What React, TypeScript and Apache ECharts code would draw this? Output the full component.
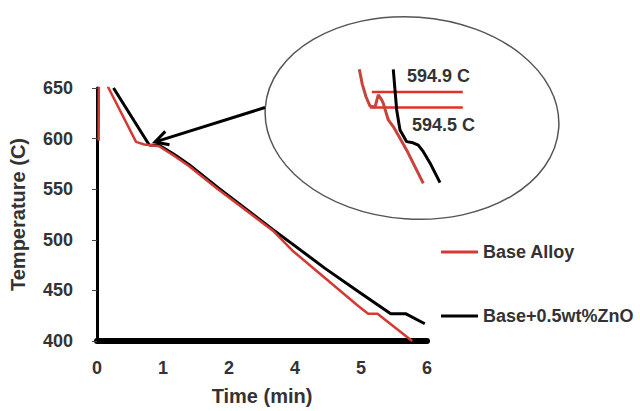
import React, { useEffect, useRef } from "react";
import * as echarts from "echarts";

// Main cooling curves: [time (min), temperature (C)]
const baseAlloy: [number, number][] = [
  [0.03, 598], [0.035, 680], [0.21, 650], [0.71, 596.8], [0.86, 594.2], [0.95, 593.6],
  [1.13, 592.5], [1.4, 583], [1.67, 573], [2.2, 550], [3.2, 509], [3.55, 489.5],
  [4.14, 462.5], [4.75, 434.6], [4.93, 427], [5.1, 427], [5.73, 400],
];
const baseZnO: [number, number][] = [
  [0.3, 650], [0.95, 593.6], [1.13, 593.5], [1.4, 584.5], [1.67, 574.5], [2.2, 551.5],
  [3.2, 510], [3.55, 496], [4.14, 472], [4.75, 449], [5.34, 427], [5.61, 427], [5.96, 417],
];

// Zoomed-in inset around the arrest point
const insetAlloy: [number, number][] = [
  [0.7117, 595.49], [0.72, 595.1], [0.73, 594.78], [0.7409, 594.54], [0.7545, 594.51],
  [0.7635, 594.83], [0.7728, 594.7], [0.7772, 594.61], [0.7908, 594.18], [0.8044, 594.01],
  [0.8227, 593.71], [0.841, 593.4], [0.859, 593.06], [0.8863, 592.54],
];
const insetZnO: [number, number][] = [
  [0.8044, 595.49], [0.8091, 594.95], [0.8137, 594.44], [0.8227, 593.92], [0.841, 593.62],
  [0.8582, 593.59], [0.8726, 593.53], [0.8863, 593.36], [0.9045, 593.07], [0.9318, 592.56],
];
const upperLevel: [number, number][] = [[0.746, 594.9], [0.994, 594.9]];
const lowerLevel: [number, number][] = [[0.741, 594.5], [0.994, 594.5]];
const upperLabel = "594.9 C";
const lowerLabel = "594.5 C";

const seriesNames = ["Base Alloy", "Base+0.5wt%ZnO"];
const RED = "#d43a33";
const FONT = "'Liberation Sans', Arial, sans-serif";
const TXT = "#333";

export default function App() {
  const ref = useRef<HTMLDivElement>(null);
  useEffect(() => {
    if (!ref.current) return;
    const chart = echarts.init(ref.current, null, { renderer: "svg" });
    const dir = [-109, 34.5];
    const len = Math.hypot(dir[0], dir[1]);
    const u = [dir[0] / len, dir[1] / len];
    const tip = [155, 142];
    const back = [tip[0] - 13 * u[0], tip[1] - 13 * u[1]];
    const perp = [-u[1] * 7, u[0] * 7];
    const legendText = { fontSize: 18, fontWeight: "bold", color: TXT, fontFamily: FONT };
    chart.setOption({
      animation: false,
      textStyle: { fontFamily: FONT },
      grid: [
        { left: 92, right: 213, top: 88, bottom: 63 },
        { left: 355, top: 65, width: 110, height: 120 },
      ],
      xAxis: [
        {
          type: "value", gridIndex: 0, min: 0, max: 6, interval: 1.2,
          name: "Time (min)", nameLocation: "middle", nameGap: 45,
          nameTextStyle: { fontSize: 20, fontWeight: "bold", color: TXT, fontFamily: FONT },
          axisLine: { show: true, onZero: false, lineStyle: { color: "#000", width: 6 } },
          axisTick: { show: false },
          splitLine: { show: false },
          axisLabel: {
            formatter: (v: number) => String(Math.round(v)),
            fontSize: 18, fontWeight: "bold", color: TXT, margin: 18, fontFamily: FONT,
          },
        },
        { type: "value", gridIndex: 1, min: 0.7, max: 1.0, show: false },
      ],
      yAxis: [
        {
          type: "value", gridIndex: 0, min: 400, max: 650, interval: 50,
          name: "Temperature (C)", nameLocation: "middle", nameGap: 69,
          nameTextStyle: { fontSize: 20, fontWeight: "bold", color: TXT, fontFamily: FONT },
          axisLine: { show: true, lineStyle: { color: "#000", width: 3 } },
          axisTick: { show: true, length: 5, lineStyle: { color: "#444", width: 1 } },
          splitLine: { show: false },
          axisLabel: { fontSize: 18, fontWeight: "bold", color: TXT, margin: 24, fontFamily: FONT },
        },
        { type: "value", gridIndex: 1, min: 592.5, max: 595.6, show: false },
      ],
      legend: [
        {
          data: [seriesNames[0]], left: 436, top: 238, icon: "rect", itemWidth: 37, itemHeight: 3,
          textStyle: legendText, selectedMode: false,
        },
        {
          data: [seriesNames[1]], left: 436, top: 302, icon: "rect", itemWidth: 37, itemHeight: 3,
          textStyle: legendText, selectedMode: false,
        },
      ],
      series: [
        {
          name: seriesNames[0], type: "line", xAxisIndex: 0, yAxisIndex: 0, data: baseAlloy,
          showSymbol: false, lineStyle: { color: RED, width: 2.5 }, itemStyle: { color: RED }, z: 3,
        },
        {
          name: seriesNames[1], type: "line", xAxisIndex: 0, yAxisIndex: 0, data: baseZnO,
          showSymbol: false, lineStyle: { color: "#000", width: 3 }, itemStyle: { color: "#000" }, z: 2,
        },
        {
          name: "inset-upper", type: "line", xAxisIndex: 1, yAxisIndex: 1, data: upperLevel,
          showSymbol: false, lineStyle: { color: "#e0302a", width: 2.5 }, clip: false,
        },
        {
          name: "inset-lower", type: "line", xAxisIndex: 1, yAxisIndex: 1, data: lowerLevel,
          showSymbol: false, lineStyle: { color: "#e0302a", width: 2.5 }, clip: false,
        },
        {
          name: "inset-alloy", type: "line", xAxisIndex: 1, yAxisIndex: 1, data: insetAlloy,
          showSymbol: false, lineStyle: { color: "#c8433b", width: 3 }, clip: false,
        },
        {
          name: "inset-zno", type: "line", xAxisIndex: 1, yAxisIndex: 1, data: insetZnO,
          showSymbol: false, lineStyle: { color: "#000", width: 3 }, clip: false,
        },
      ],
      graphic: [
        {
          type: "ellipse", x: 412, y: 118, rotation: -0.07,
          shape: { cx: 0, cy: 0, rx: 147, ry: 101 },
          style: { fill: "none", stroke: "#555", lineWidth: 1.5 }, z: 1, silent: true,
        },
        {
          type: "line", shape: { x1: 265, y1: 107.5, x2: tip[0] - 2 * u[0], y2: tip[1] - 2 * u[1] },
          style: { stroke: "#000", lineWidth: 3 }, z: 5,
        },
        {
          type: "polyline",
          shape: { points: [[back[0] - perp[0], back[1] - perp[1]], tip, [back[0] + perp[0], back[1] + perp[1]]] },
          style: { stroke: "#000", lineWidth: 3, fill: "none" }, z: 5,
        },
        {
          type: "text", left: 407, top: 67, z: 5,
          style: { text: upperLabel, fontSize: 18, fontWeight: "bold", fill: TXT, fontFamily: FONT },
        },
        {
          type: "text", left: 412, top: 116, z: 5,
          style: { text: lowerLabel, fontSize: 18, fontWeight: "bold", fill: TXT, fontFamily: FONT },
        },
      ],
    });
    return () => chart.dispose();
  }, []);
  return <div ref={ref} style={{ width: 640, height: 411, position: "absolute", left: 0, top: 0 }} />;
}
